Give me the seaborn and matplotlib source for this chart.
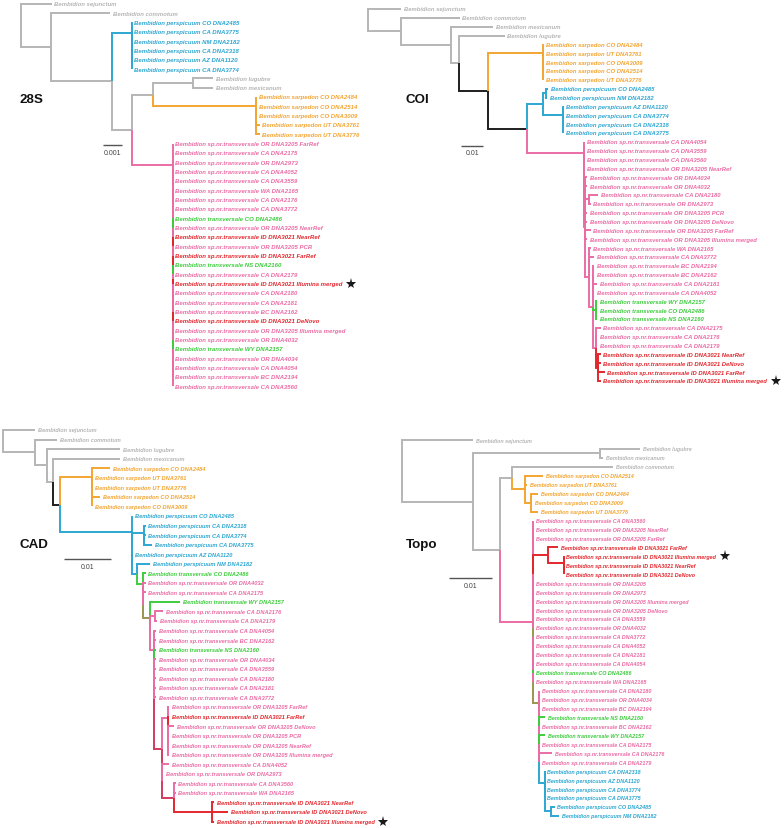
import numpy as np
import pandas as pd
import seaborn as sns
import matplotlib.pyplot as plt

sns.set_theme(style="white")
plt.rcParams['font.family'] = ['Liberation Sans', 'DejaVu Sans']

SP = "Bembidion sp.nr.transversale"
TR = "Bembidion transversale"
PE = "Bembidion perspicuum"
SA = "Bembidion sarpedon"

# ---- 28S: tips in drawing order, tree as newick (tips = index into list) ----
tips_28s = [
    "Bembidion sejunctum", "Bembidion commotum",
    PE + " CO DNA2485", PE + " CA DNA3775", PE + " NM DNA2182", PE + " CA DNA2318",
    PE + " AZ DNA1120", PE + " CA DNA3774",
    "Bembidion lugubre", "Bembidion mexicanum",
    SA + " CO DNA2484", SA + " CO DNA2514", SA + " CO DNA3009", SA + " UT DNA3761", SA + " UT DNA3776",
    SP + " OR DNA3205 FarRef", SP + " CA DNA2175", SP + " OR DNA2973", SP + " CA DNA4052",
    SP + " CA DNA3559", SP + " WA DNA2165", SP + " CA DNA2176", SP + " CA DNA3772",
    TR + " CO DNA2486", SP + " OR DNA3205 NearRef", SP + " ID DNA3021 NearRef", SP + " OR DNA3205 PCR",
    SP + " ID DNA3021 FarRef", TR + " NS DNA2160", SP + " CA DNA2179", SP + " ID DNA3021 Illumina merged",
    SP + " CA DNA2180", SP + " CA DNA2181", SP + " BC DNA2162", SP + " ID DNA3021 DeNovo",
    SP + " OR DNA3205 Illumina merged", SP + " OR DNA4032", TR + " WY DNA2157", SP + " OR DNA4034",
    SP + " CA DNA4054", SP + " BC DNA2194", SP + " CA DNA3560",
]
newick_28s = (
    "(0:0.00163,(1:0.00312,((2,(3,(4,5,6,7))):0.00105,"
    "(((8:0.00105,9:0.00105):0.00214,(10,(11,(12,13:0.00017,14:0.00017))):0.00547)g:0.0011,"
    "(15,(16,(17,(18,19,20,21,22,23,24,25,26,27,28,29,30,31,32,33,34,35,36,37,38,39,40,41)p)p)p)p:0.00216"
    ")g:0.00105)g:0.00321)g:0.00158)g;"
)

# ---- COI ----
tips_coi = [
    "Bembidion sejunctum", "Bembidion commotum", "Bembidion mexicanum", "Bembidion lugubre",
    SA + " CO DNA2484", SA + " UT DNA3761", SA + " CO DNA3009", SA + " CO DNA2514", SA + " UT DNA3776",
    PE + " CO DNA2485", PE + " NM DNA2182", PE + " AZ DNA1120", PE + " CA DNA3774",
    PE + " CA DNA2318", PE + " CA DNA3775",
    SP + " CA DNA4054", SP + " CA DNA3559", SP + " CA DNA3560", SP + " OR DNA3205 NearRef",
    SP + " OR DNA4034", SP + " OR DNA4032", SP + " CA DNA2180", SP + " OR DNA2973",
    SP + " OR DNA3205 PCR", SP + " OR DNA3205 DeNovo", SP + " OR DNA3205 FarRef",
    SP + " OR DNA3205 Illumina merged", SP + " WA DNA2165", SP + " CA DNA3772",
    SP + " BC DNA2194", SP + " BC DNA2162", SP + " CA DNA2181", SP + " CA DNA4052",
    TR + " WY DNA2157", TR + " CO DNA2486", TR + " NS DNA2160",
    SP + " CA DNA2175", SP + " CA DNA2176", SP + " CA DNA2179",
    SP + " ID DNA3021 NearRef", SP + " ID DNA3021 DeNovo", SP + " ID DNA3021 FarRef",
    SP + " ID DNA3021 Illumina merged",
]
newick_coi = (
    "(0:0.0152,(1:0.0269,(2:0.0196,(3:0.0210,((4,(5,(6,7,8))):0.0254,"
    "(((9:0.0008,10:0.0005):0.0015,(11,(12,13,14)):0.0092):0.0072,"
    "(15,(16,(17,(18,(19:0.0009,20:0.0009,(21:0.0042,22:0.0009):0.0015,23:0.0009,24:0.0009,"
    "25:0.0024,26:0.0009,(27:0.0009,28:0.0025,(29:0.0008,30:0.0008,31:0.0022,32:0.0008,"
    "(33:0.0006,34:0.0006,35:0.0006):0.0016,(36:0.0021,37:0.0006,38:0.0006,"
    "(39:0.0012,40:0.0012,41:0.003,42:0.0012):0.0009)p:0.0016)p:0.0018)p:0.0015)p:0.0006"
    ")p)p)p)p:0.0262)k:0.0181)k:0.0134)g:0.0039)g:0.0228)g:0.0152)g;"
)

# ---- CAD ----
tips_cad = [
    "Bembidion sejunctum", "Bembidion commotum", "Bembidion lugubre", "Bembidion mexicanum",
    SA + " CO DNA2484", SA + " UT DNA3761", SA + " UT DNA3776", SA + " CO DNA2514", SA + " CO DNA3009",
    PE + " CO DNA2485", PE + " CA DNA2318", PE + " CA DNA3774", PE + " CA DNA3775",
    PE + " AZ DNA1120", PE + " NM DNA2182",
    TR + " CO DNA2486", SP + " OR DNA4032", SP + " CA DNA2175", TR + " WY DNA2157",
    SP + " CA DNA2176", SP + " CA DNA2179", SP + " CA DNA4054", SP + " BC DNA2162",
    TR + " NS DNA2160", SP + " OR DNA4034", SP + " CA DNA3559", SP + " CA DNA2180",
    SP + " CA DNA2181", SP + " CA DNA3772", SP + " OR DNA3205 FarRef", SP + " ID DNA3021 FarRef",
    SP + " OR DNA3205 DeNovo", SP + " OR DNA3205 PCR", SP + " OR DNA3205 NearRef",
    SP + " OR DNA3205 Illumina merged", SP + " CA DNA4052", SP + " OR DNA2973",
    SP + " CA DNA3560", SP + " WA DNA2165",
    SP + " ID DNA3021 NearRef", SP + " ID DNA3021 DeNovo", SP + " ID DNA3021 Illumina merged",
]
newick_cad = (
    "(0:0.0069,(1:0.0047,(2:0.0156,(3:0.0142,((4:0.0039,(5,(6,(7:0.0018,8)))):0.0069,"
    "(9,((10:0.0004,(11:0.0004,12:0.0018)):0.0025,(13,(14:0.0028,"
    "(15:0.0005,(16:0.0005,(17:0.0005,(18:0.0065,((19:0.0016,20:0.0004):0.0012,"
    "(21:0.0005,(22:0.0005,(23:0.0005,24:0.0005,25:0.0005,26:0.0005,27:0.0005,28:0.0005,"
    "((29:0.0002,(30:0.0002,(31:0.0013,32:0.0002,33:0.0002,34:0.0002)p)p)p:0.0014,"
    "(35:0.0016,36:0.0004,(37:0.0004,38:0.0004,(39:0.0004,40:0.0034,41:0.0004):0.0081)q:0.0026)q"
    ")q:0.0016)p)p)p:0.0009)m)m:0.0014)m)m)v:0.0013)b:0.0011)b)b)b:0.0154"
    ")k:0.0013)g:0.0014)g:0.0025)g:0.0069)g;"
)

# ---- Topo ----
tips_topo = [
    "Bembidion sejunctum", "Bembidion lugubre", "Bembidion mexicanum", "Bembidion commotum",
    SA + " CO DNA2514", SA + " UT DNA3761", SA + " CO DNA2484", SA + " CO DNA3009", SA + " UT DNA3776",
    SP + " CA DNA3560", SP + " OR DNA3205 NearRef", SP + " OR DNA3205 FarRef",
    SP + " ID DNA3021 FarRef", SP + " ID DNA3021 Illumina merged", SP + " ID DNA3021 NearRef",
    SP + " ID DNA3021 DeNovo", SP + " OR DNA3205", SP + " OR DNA2973",
    SP + " OR DNA3205 Illumina merged", SP + " OR DNA3205 DeNovo", SP + " CA DNA3559",
    SP + " OR DNA4032", SP + " CA DNA3772", SP + " CA DNA4052", SP + " CA DNA2181",
    SP + " CA DNA4054", TR + " CO DNA2486", SP + " WA DNA2165", SP + " CA DNA2180",
    SP + " OR DNA4034", SP + " BC DNA2194", TR + " NS DNA2160", SP + " BC DNA2162",
    TR + " WY DNA2157", SP + " CA DNA2175", SP + " CA DNA2176", SP + " CA DNA2179",
    PE + " CA DNA2318", PE + " AZ DNA1120", PE + " CA DNA3774", PE + " CA DNA3775",
    PE + " CO DNA2485", PE + " NM DNA2182",
]
newick_topo = (
    "(0:0.0165,((1:0.0092,2:0.0008):0.0292,((3:0.0235,(4:0.0042,5:0.0004,"
    "(6:0.0017,7:0.0003,8:0.0017):0.0014):0.0031)g:0.0027,"
    "((9,10,11,(12:0.0023,(13,(14,15)):0.0035):0.0036,16,17,18,19,20,21)p,"
    "(22,23,24,25,26,27,(28,(29,(30,(31:0.0015,32,33:0.0015,34,35:0.0031,36,"
    "(37,(38,39,40,(41:0.0008,42:0.0019):0.0015)):0.0013)m)m)m)m:0.0014)m"
    ")p:0.0076)g:0.0061)g:0.0165)g;"
)

PALETTE = {'g': '#b5b5b5', 'b': '#2da7d1', 'o': '#f3a532', 'p': '#eb6ca5', 'v': '#3dcc3d',
           'r': '#e3262c', 'k': '#1e1e1e', 'm': '#9c9550', 'q': '#d13a5e'}


def tip_cat(name):
    if 'sarpedon' in name:
        return 'o'
    if 'perspicuum' in name:
        return 'b'
    if 'ID DNA3021' in name:
        return 'r'
    if name.startswith(TR):
        return 'v'
    if 'sp.nr.' in name:
        return 'p'
    return 'g'


def parse_newick(s):
    s = s.strip().rstrip(';')
    pos = 0

    def node():
        nonlocal pos
        n = {'children': [], 'len': 0.0, 'label': None}
        if s[pos] == '(':
            pos += 1
            while True:
                n['children'].append(node())
                if s[pos] == ',':
                    pos += 1
                else:
                    break
            pos += 1
        start = pos
        while pos < len(s) and s[pos] not in ',():':
            pos += 1
        if s[start:pos]:
            n['label'] = s[start:pos]
        if pos < len(s) and s[pos] == ':':
            pos += 1
            start = pos
            while pos < len(s) and s[pos] not in ',()':
                pos += 1
            n['len'] = float(s[start:pos])
        return n
    return node()


def layout(n, names, x0=0.0):
    n['x'] = x0 + n['len']
    if n['children']:
        for c in n['children']:
            layout(c, names, n['x'])
        n['y'] = (n['children'][0]['y'] + n['children'][-1]['y']) / 2
        cats = set().union(*[c['cats'] for c in n['children']])
        n['cats'] = cats
        n['col'] = n['label'] or (next(iter(cats)) if len(cats) == 1 else 'g')
    else:
        i = int(n['label'])
        n['tip'] = i
        n['y'] = i
        n['col'] = tip_cat(names[i])
        n['cats'] = {n['col']}


def draw_tree(ax, n, names, fs, star_tips):
    for c in sorted(n['children'], key=lambda c: -abs(c['y'] - n['y'])):
        ax.plot([n['x'], n['x'], c['x']], [n['y'], c['y'], c['y']], color=PALETTE[c['col']],
                lw=1.4, solid_joinstyle='miter', solid_capstyle='butt', clip_on=False)
    for c in n['children']:
        if c['children']:
            draw_tree(ax, c, names, fs, star_tips)
        else:
            t = ax.annotate(names[c['tip']], xy=(c['x'], c['y']), xytext=(2.0, 0),
                            textcoords='offset points', ha='left', va='center', fontsize=fs,
                            fontweight='bold', fontstyle='italic', color=PALETTE[c['col']],
                            annotation_clip=False)
            if names[c['tip']].endswith('ID DNA3021 Illumina merged'):
                star_tips.append((ax, t, c['y']))


W, H = 784, 829
fig = plt.figure(figsize=(W / 100, H / 100), dpi=100)

# layout per panel, in pixels of the figure
panels = [
    dict(title="28S", tips=tips_28s, nwk=newick_28s, box=(0, 0, 392, 410), root=20.7, tip0=4.7,
         step=9.33, ppu=19000, fs=4.3, scale=0.001, sb="0.001", sbpos=(102.7, 146.3), title_pos=(20, 100)),
    dict(title="COI", tips=tips_coi, nwk=newick_coi, box=(360, 0, 424, 410), root=368.3, tip0=10,
         step=8.857, ppu=2167, fs=4.25, scale=0.01, sb="0.01", sbpos=(461.3, 146.7), title_pos=(406, 100)),
    dict(title="CAD", tips=tips_cad, nwk=newick_cad, box=(0, 410, 392, 419), root=2.7, tip0=431,
         step=9.55, ppu=4700, fs=4.05, scale=0.01, sb="0.01", sbpos=(64, 560), title_pos=(20, 545)),
    dict(title="Topo", tips=tips_topo, nwk=newick_topo, box=(392, 410, 392, 419), root=402, tip0=441,
         step=8.95, ppu=4333, fs=3.9, scale=0.01, sb="0.01", sbpos=(448.7, 579.3), title_pos=(406, 545)),
]

star_tips = []
for p in panels:
    l, t, w, h = p['box']
    ax = fig.add_axes([l / W, 1 - (t + h) / H, w / W, h / H])
    ax.set_axis_off()
    ax.set_xlim((l - p['root']) / p['ppu'], (l + w - p['root']) / p['ppu'])
    ax.set_ylim((t + h - p['tip0']) / p['step'], (t - p['tip0']) / p['step'])

    def to_data(px, py, p=p):
        return (px - p['root']) / p['ppu'], (py - p['tip0']) / p['step']

    tree = parse_newick(p['nwk'])
    layout(tree, p['tips'])
    draw_tree(ax, tree, p['tips'], p['fs'], star_tips)

    tx, ty = to_data(*p['title_pos'])
    ax.text(tx, ty, p['title'], fontsize=9.6, fontweight='bold', ha='left', va='center', color='#111111')
    sx, sy = to_data(*p['sbpos'])
    ax.plot([sx, sx + p['scale']], [sy, sy], color='#555555', lw=1.0, solid_capstyle='butt')
    ax.text(sx + p['scale'] / 2, sy + 0.75, p['sb'], fontsize=5, ha='center', va='center', color='#444444')

# star after the Illumina merged ID DNA3021 label
fig.canvas.draw()
renderer = fig.canvas.get_renderer()
for ax, t, y in star_tips:
    bb = t.get_window_extent(renderer)
    xd, _ = ax.transData.inverted().transform((bb.x1 + 8.5, bb.y0))
    ax.plot([xd], [y], marker='*', ms=8, color='#1a1a1a', clip_on=False, markeredgewidth=0)

fig.savefig("out.png", dpi=100)
